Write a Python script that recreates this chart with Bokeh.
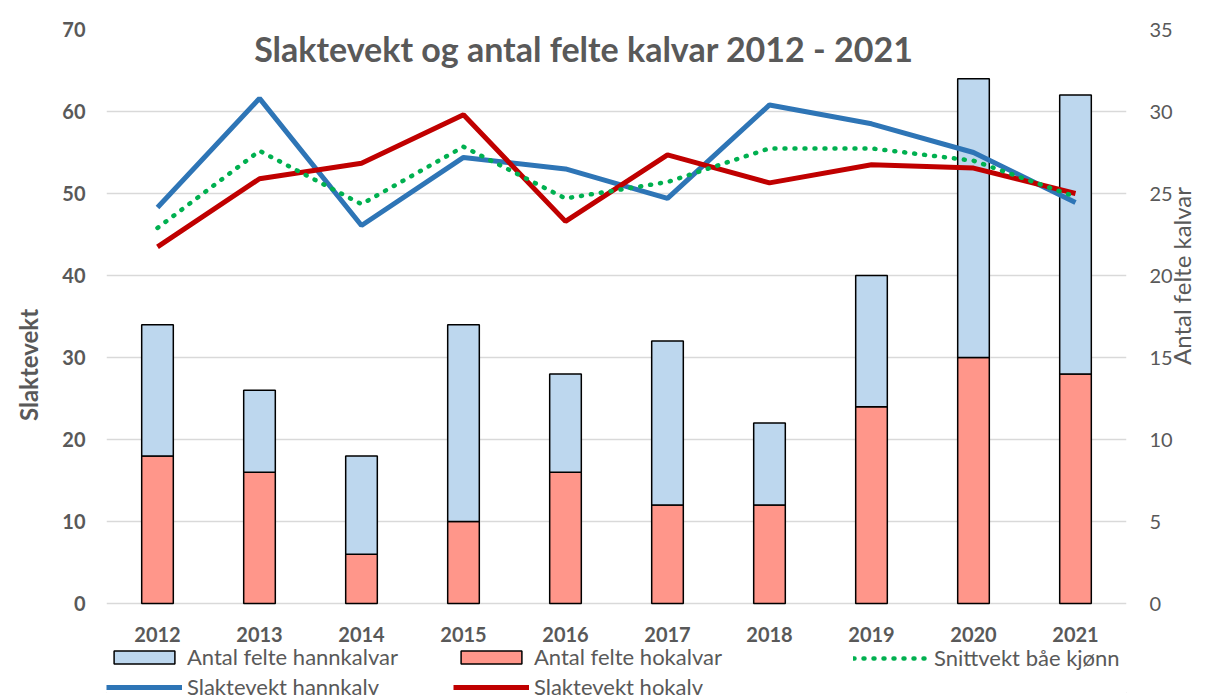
import math
from bokeh.plotting import figure
from bokeh.models import (Range1d, LinearAxis, Legend, LegendItem, Label,
                          FixedTicker, FactorRange)
from bokeh.embed import file_html
from bokeh.resources import INLINE

years = ["2012", "2013", "2014", "2015", "2016", "2017", "2018", "2019", "2020", "2021"]
felte_hokalvar = [9, 8, 3, 5, 8, 6, 6, 12, 15, 14]
felte_hannkalvar = [8, 5, 6, 12, 6, 10, 5, 8, 17, 17]
slaktevekt_hannkalv = [48.3, 61.6, 46.1, 54.4, 53.0, 49.4, 60.8, 58.5, 55.0, 48.9]
slaktevekt_hokalv = [43.5, 51.8, 53.7, 59.6, 46.6, 54.7, 51.3, 53.5, 53.1, 50.0]
snittvekt = [45.8, 55.2, 48.7, 55.7, 49.4, 51.4, 55.5, 55.5, 54.0, 49.6]
left_ticks = list(range(0, 71, 10))
right_ticks = list(range(0, 36, 5))

GRAY = "#595959"
FONT = "Lato"

# the frame reaches down to the page bottom so the legend (drawn inside it) is not clipped;
# the value axes keep 0 at the same place as in the reference (97 px above the bottom)
EXT = 97 / 574
p = figure(width=1213, height=700, x_range=FactorRange(*years),
           y_range=Range1d(-EXT * 70, 70),
           output_backend="svg", toolbar_location=None,
           min_border_left=106, min_border_right=87, min_border_top=29, min_border_bottom=0)
p.styles = {"outline": "1px solid #d9d9d9", "outline-offset": "-8px"}
p.outline_line_color = None
p.extra_y_ranges = {"right": Range1d(-EXT * 35, 35)}

src = dict(years=years, ho=felte_hokalvar, hann=felte_hannkalvar)
bars = p.vbar_stack(["ho", "hann"], x="years", width=0.31, source=src, y_range_name="right",
                    color=["#ff968a", "#bdd7ee"], line_color="black", line_width=1.5)
r_blue = p.line(years, slaktevekt_hannkalv, line_color="#2e75b6", line_width=5)
r_red = p.line(years, slaktevekt_hokalv, line_color="#c00000", line_width=5)
r_green = p.line(years, snittvekt, line_color="#00b050", line_width=4.5,
                 line_dash="1 9", line_cap="round")

# left axis
ly = p.yaxis[0]
ly.ticker = FixedTicker(ticks=left_ticks)
ly.axis_label = "Slaktevekt"
ly.axis_line_color = None
ly.major_tick_line_color = None
ly.minor_tick_line_color = None
ly.major_tick_out = 0
ly.major_tick_in = 0
ly.major_label_text_font = FONT
ly.major_label_text_font_style = "bold"
ly.major_label_text_font_size = "20px"
ly.major_label_text_color = GRAY
ly.major_label_standoff = 21
ly.axis_label_text_font = FONT
ly.axis_label_text_font_style = "bold"
ly.axis_label_text_font_size = "24px"
ly.axis_label_text_color = GRAY
ly.axis_label_standoff = 16

# right axis
ry = LinearAxis(y_range_name="right", ticker=FixedTicker(ticks=right_ticks),
                axis_label="Antal felte kalvar")
ry.axis_line_color = None
ry.major_tick_line_color = None
ry.minor_tick_line_color = None
ry.major_tick_out = 0
ry.major_tick_in = 0
ry.major_label_text_font = FONT
ry.major_label_text_font_size = "20px"
ry.major_label_text_color = GRAY
ry.major_label_standoff = 23
ry.axis_label_text_font = FONT
ry.axis_label_text_font_style = "normal"
ry.axis_label_text_font_size = "24px"
ry.axis_label_text_color = GRAY
ry.axis_label_standoff = 6
if "axis_label_orientation" in ry.properties():
    ry.axis_label_orientation = math.pi / 2
    ry.axis_label_text_align = "center"
p.add_layout(ry, "right")

# bottom axis: labels pulled up to sit just under the zero line
xa = p.xaxis[0]
xa.axis_line_color = None
xa.major_tick_line_color = None
xa.minor_tick_line_color = None
xa.major_tick_out = 0
xa.major_tick_in = 0
xa.major_label_text_font = FONT
xa.major_label_text_font_style = "bold"
xa.major_label_text_font_size = "20px"
xa.major_label_text_color = GRAY
xa.major_label_standoff = -74

p.xgrid.grid_line_color = None
p.ygrid.grid_line_color = "#d9d9d9"
p.ygrid.grid_line_width = 1.5

title = Label(x=4.68, y=67.7, text="Slaktevekt og antal felte kalvar 2012 - 2021",
              text_font=FONT, text_font_style="bold", text_font_size="34px",
              text_color=GRAY, text_align="center", text_baseline="middle")
p.add_layout(title)

def make_legend(items, loc):
    return Legend(items=items, location=loc, orientation="vertical",
                  padding=0, margin=0, spacing=3, border_line_color=None,
                  background_fill_alpha=0, glyph_width=76, glyph_height=16,
                  label_height=26, label_standoff=5,
                  label_text_font=FONT, label_text_font_size="22px", label_text_color=GRAY)

lg1 = make_legend([LegendItem(label="Antal felte hannkalvar", renderers=[bars[1]]),
                   LegendItem(label="Slaktevekt hannkalv", renderers=[r_blue])], (0, 0))
lg2 = make_legend([LegendItem(label="Antal felte hokalvar", renderers=[bars[0]]),
                   LegendItem(label="Slaktevekt hokalv", renderers=[r_red])], (347, 0))
lg3 = make_legend([LegendItem(label="Snittvekt båe kjønn", renderers=[r_green])], (747, 29))
for lg in (lg1, lg2, lg3):
    p.add_layout(lg)

open("out.html", "w").write(file_html(p, INLINE))
